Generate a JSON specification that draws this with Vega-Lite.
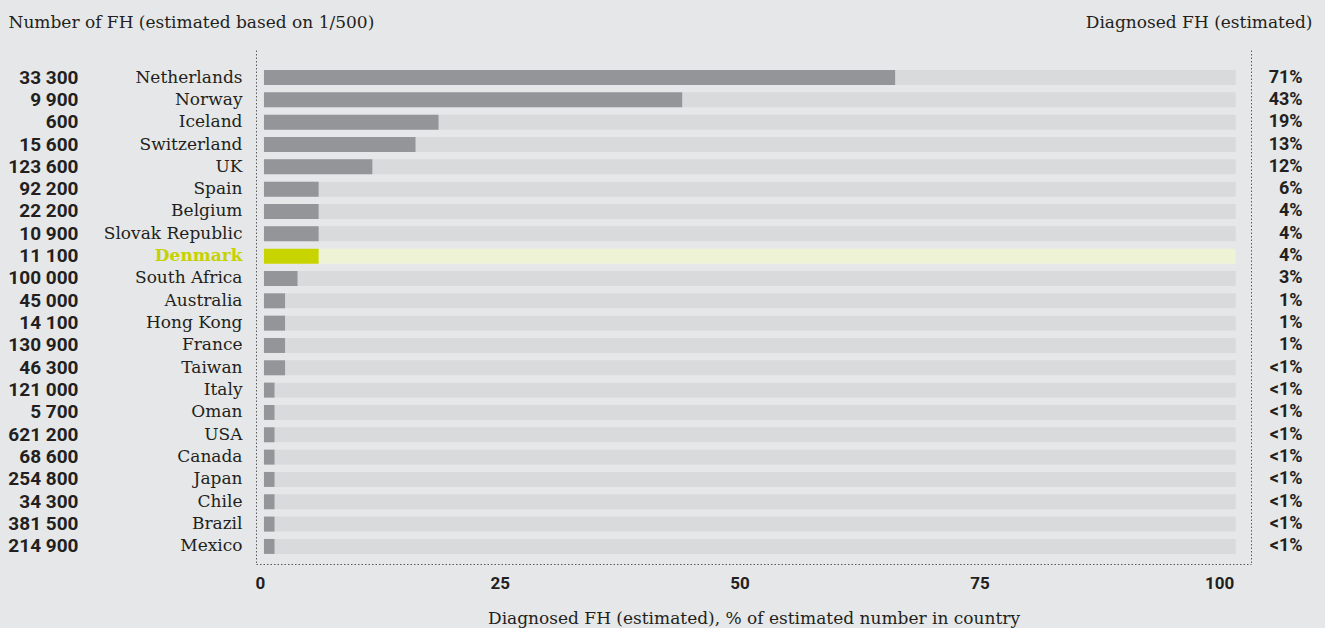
{
  "$schema": "https://vega.github.io/schema/vega-lite/v6.json",
  "autosize": {"type": "none"},
  "padding": {"left": 256, "top": 50, "right": 74, "bottom": 64},
  "width": 995,
  "height": 514,
  "data": {
    "values": [
      {"order": 1, "country": "Netherlands", "fh": "33 300", "bar": 65.8, "track": 101.3, "label": "71%"},
      {"order": 2, "country": "Norway", "fh": "9 900", "bar": 43.6, "track": 101.3, "label": "43%"},
      {"order": 3, "country": "Iceland", "fh": "600", "bar": 18.2, "track": 101.3, "label": "19%"},
      {"order": 4, "country": "Switzerland", "fh": "15 600", "bar": 15.8, "track": 101.3, "label": "13%"},
      {"order": 5, "country": "UK", "fh": "123 600", "bar": 11.3, "track": 101.3, "label": "12%"},
      {"order": 6, "country": "Spain", "fh": "92 200", "bar": 5.7, "track": 101.3, "label": "6%"},
      {"order": 7, "country": "Belgium", "fh": "22 200", "bar": 5.7, "track": 101.3, "label": "4%"},
      {"order": 8, "country": "Slovak Republic", "fh": "10 900", "bar": 5.7, "track": 101.3, "label": "4%"},
      {"order": 9, "country": "Denmark", "fh": "11 100", "bar": 5.7, "track": 101.3, "label": "4%"},
      {"order": 10, "country": "South Africa", "fh": "100 000", "bar": 3.5, "track": 101.3, "label": "3%"},
      {"order": 11, "country": "Australia", "fh": "45 000", "bar": 2.2, "track": 101.3, "label": "1%"},
      {"order": 12, "country": "Hong Kong", "fh": "14 100", "bar": 2.2, "track": 101.3, "label": "1%"},
      {"order": 13, "country": "France", "fh": "130 900", "bar": 2.2, "track": 101.3, "label": "1%"},
      {"order": 14, "country": "Taiwan", "fh": "46 300", "bar": 2.2, "track": 101.3, "label": "<1%"},
      {"order": 15, "country": "Italy", "fh": "121 000", "bar": 1.1, "track": 101.3, "label": "<1%"},
      {"order": 16, "country": "Oman", "fh": "5 700", "bar": 1.1, "track": 101.3, "label": "<1%"},
      {"order": 17, "country": "USA", "fh": "621 200", "bar": 1.1, "track": 101.3, "label": "<1%"},
      {"order": 18, "country": "Canada", "fh": "68 600", "bar": 1.1, "track": 101.3, "label": "<1%"},
      {"order": 19, "country": "Japan", "fh": "254 800", "bar": 1.1, "track": 101.3, "label": "<1%"},
      {"order": 20, "country": "Chile", "fh": "34 300", "bar": 1.1, "track": 101.3, "label": "<1%"},
      {"order": 21, "country": "Brazil", "fh": "381 500", "bar": 1.1, "track": 101.3, "label": "<1%"},
      {"order": 22, "country": "Mexico", "fh": "214 900", "bar": 1.1, "track": 101.3, "label": "<1%"}
    ]
  },
  "layer": [
    {
      "mark": {"type": "bar"},
      "encoding": {
        "y": {
          "field": "country",
          "type": "nominal",
          "sort": {"field": "order"},
          "scale": {"type": "band", "paddingInner": 0.33, "paddingOuter": 0.675, "align": 0.665},
          "axis": {
            "orient": "left",
            "title": null,
            "labelFont": "DejaVu Serif",
            "labelFontSize": 17,
            "labelPadding": 14,
            "labelColor": {"condition": {"test": "datum.value === 'Denmark'", "value": "#c5d200"}, "value": "#231f20"},
            "labelFontWeight": {"condition": {"test": "datum.value === 'Denmark'", "value": "bold"}, "value": "normal"}
          }
        },
        "x": {
          "field": "track",
          "type": "quantitative",
          "title": "Diagnosed FH (estimated), % of estimated number in country",
          "scale": {"domain": [-0.83, 102.9], "nice": false, "zero": false},
          "axis": {"values": [0, 25, 50, 75, 100]}
        },
        "color": {
          "condition": {"test": "datum.country === 'Denmark'", "value": "#eff3d6"},
          "value": "#d9dadb"
        }
      }
    },
    {
      "mark": {"type": "bar"},
      "encoding": {
        "y": {
          "field": "country",
          "type": "nominal",
          "sort": {"field": "order"},
          "scale": {"type": "band", "paddingInner": 0.33, "paddingOuter": 0.675, "align": 0.665},
          "axis": {
            "orient": "right",
            "labels": false,
            "title": "Diagnosed FH (estimated)",
            "titleAngle": 0,
            "titleAlign": "right",
            "titleBaseline": "alphabetic",
            "titleX": 61,
            "titleY": -23,
            "titleFont": "DejaVu Serif",
            "titleFontSize": 17,
            "titleFontWeight": "normal"
          }
        },
        "x": {
          "field": "bar",
          "type": "quantitative",
          "title": "Diagnosed FH (estimated), % of estimated number in country"
        },
        "color": {
          "condition": {"test": "datum.country === 'Denmark'", "value": "#c8d400"},
          "value": "#939598"
        }
      }
    },
    {
      "mark": {"type": "text", "align": "right", "baseline": "middle", "dx": 67, "font": "Roboto", "fontWeight": "bold", "fontSize": 18, "color": "#231f20"},
      "encoding": {
        "y": {
          "field": "fh",
          "type": "nominal",
          "sort": {"field": "order"},
          "scale": {"type": "band", "paddingInner": 0.33, "paddingOuter": 0.675, "align": 0.665},
          "axis": {
            "orient": "left",
            "offset": 170,
            "domain": false,
            "labelFont": "Roboto",
            "labelFontWeight": "bold",
            "labelFontSize": 19,
            "labelPadding": 8,
            "title": "Number of FH (estimated based on 1/500)",
            "titleAngle": 0,
            "titleAlign": "left",
            "titleBaseline": "alphabetic",
            "titleX": -78,
            "titleY": -23,
            "titleFont": "DejaVu Serif",
            "titleFontSize": 17,
            "titleFontWeight": "normal"
          }
        },
        "x": {
          "field": "track",
          "type": "quantitative",
          "title": "Diagnosed FH (estimated), % of estimated number in country"
        },
        "text": {"field": "label"}
      }
    }
  ],
  "resolve": {"scale": {"y": "independent"}, "axis": {"y": "independent"}},
  "config": {
    "background": "#e6e7e8",
    "view": {"stroke": null},
    "axis": {
      "grid": false,
      "ticks": false,
      "tickSize": 0,
      "domainColor": "#58595b",
      "domainDash": [1.5, 2],
      "domainWidth": 1,
      "labelColor": "#231f20",
      "titleColor": "#231f20"
    },
    "axisX": {
      "labelFont": "Roboto",
      "labelFontWeight": "bold",
      "labelFontSize": 17,
      "labelPadding": 11,
      "labelOffset": -4,
      "labelFlush": false,
      "titleFont": "DejaVu Serif",
      "titleFontWeight": "normal",
      "titleFontSize": 17,
      "titlePadding": 19
    }
  }
}
